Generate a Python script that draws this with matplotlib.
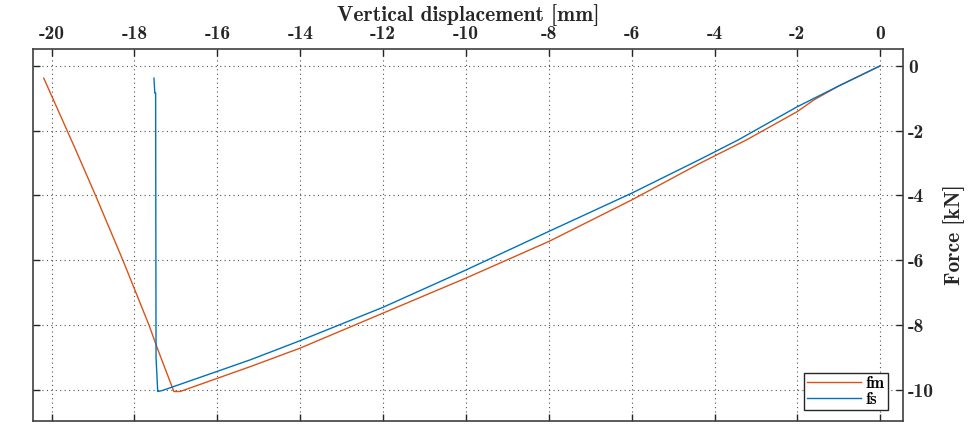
import matplotlib
matplotlib.use("Agg")
import matplotlib.pyplot as plt

# ---- data ----
fm_x = [0.0, -0.5, -1.0, -1.6, -2.0, -3.22, -4.34, -6.0, -8.0, -10.0, -12.0, -14.0,
        -15.2, -16.9, -17.05, -17.45, -17.65, -18.28, -18.94, -19.42, -20.19]
fm_y = [0.0, -0.31, -0.62, -1.05, -1.41, -2.28, -3.0, -4.14, -5.42, -6.55, -7.63, -8.71,
        -9.28, -10.05, -10.05, -8.71, -8.0, -6.0, -4.0, -2.59, -0.38]
fs_x = [0.0, -1.0, -2.0, -3.42, -4.34, -6.0, -8.0, -10.0, -12.0, -14.0, -15.2,
        -17.33, -17.44, -17.48, -17.49, -17.51, -17.53]
fs_y = [0.0, -0.62, -1.26, -2.28, -2.88, -3.93, -5.11, -6.30, -7.45, -8.48, -9.07,
        -10.02, -10.05, -9.0, -0.84, -0.84, -0.38]
xticks = [-20, -18, -16, -14, -12, -10, -8, -6, -4, -2, 0]
yticks = [0, -2, -4, -6, -8, -10]
series_labels = ["fm", "fs"]
xlabel = "Vertical displacement [mm]"
ylabel = "Force [kN]"

plt.rcParams['axes.unicode_minus'] = False
plt.rcParams['font.family'] = ['cmb10', 'DejaVu Serif']

fig = plt.figure(figsize=(9.72, 4.26), dpi=100)
ax = fig.add_axes([33/972, 1-421/426, (903-33)/972, (421-49)/426])

c_fm = '#D95319'
c_fs = '#0072BD'
ax.plot(fm_x, fm_y, color=c_fm, lw=1.0, label=series_labels[0])
ax.plot(fs_x, fs_y, color=c_fs, lw=1.0, label=series_labels[1])

ax.set_xlim(-20.45, 0.55)
ax.set_ylim(-10.96, 0.52)
ax.set_xticks(xticks)
ax.set_yticks(yticks)
ax.set_xticklabels([str(t) for t in xticks])
ax.set_yticklabels([str(t) for t in yticks])

ax.xaxis.tick_top()
ax.xaxis.set_label_position('top')
ax.yaxis.tick_right()
ax.yaxis.set_label_position('right')
ax.tick_params(axis='both', which='both', direction='in', length=5, width=1.0,
               top=True, bottom=True, left=True, right=True,
               labeltop=True, labelbottom=False, labelright=True, labelleft=False,
               colors='#262626', labelsize=14)
ax.tick_params(axis='x', pad=4.5)
ax.tick_params(axis='y', pad=3.5)

ax.grid(True, linestyle=(0, (1, 3)), color='#262626', lw=0.8, alpha=0.8)
for s in ax.spines.values():
    s.set_color('#404040')
    s.set_linewidth(1.2)

ax.set_xlabel(xlabel, fontsize=15.5, color='#262626', labelpad=3)
ax.set_ylabel(ylabel, fontsize=15.5, color='#262626', labelpad=7, rotation=90)

leg = ax.legend(loc='lower right', bbox_to_anchor=(888/972, 1-410/426),
                bbox_transform=fig.transFigure, fontsize=12, frameon=True,
                fancybox=False, edgecolor='#262626', framealpha=1,
                handlelength=3.2, handletextpad=0.3, labelspacing=0.05,
                borderpad=0.2, borderaxespad=0)
leg.get_frame().set_linewidth(1.0)

fig.savefig('out.png', dpi=100)
